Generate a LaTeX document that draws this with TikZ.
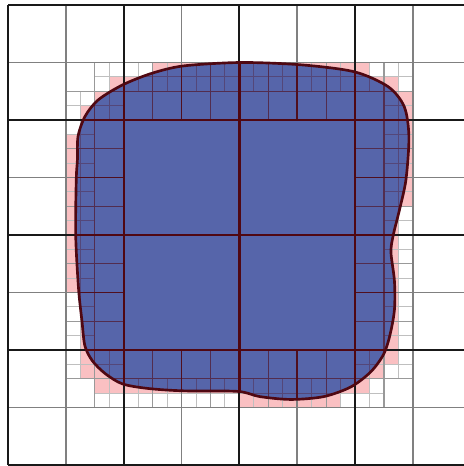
\documentclass[tikz,border=0pt]{standalone}
\usepackage{tikz}

\definecolor{fillblue}{RGB}{86,101,170}
\definecolor{cutpink}{RGB}{250,192,194}
\definecolor{rimred}{RGB}{80,8,18}

\tikzset{every picture/.style={line width=0.75pt}}
\tikzset{
  lvl0/.style={draw=black!90, line width=1.5pt},
  lvl1/.style={draw=black!50, line width=1.35pt},
  lvl2/.style={draw=black!40, line width=0.9pt},
  lvl3/.style={draw=black!25, line width=0.7pt},
  inside/.style={
    lvl0/.style={draw=rimred, line width=1.7pt},
    lvl1/.style={draw=rimred!92!fillblue, line width=1.4pt},
    lvl2/.style={draw=rimred!60!fillblue, line width=0.9pt},
    lvl3/.style={draw=rimred!32!fillblue, line width=0.7pt}},
  cutcell/.style={fill=cutpink},
  rim/.style={draw=rimred, line width=2pt},
}

% boundary of the region, in cell units
\newcommand{\blobpath}{plot[smooth cycle,tension=0.5] coordinates {
  (4.02,1.00) (5.06,1.04) (5.98,1.16) (6.57,1.42) (6.85,1.77) (6.93,2.29)
  (6.88,3.03) (6.77,3.55) (6.66,4.00) (6.62,4.30) (6.68,4.80) (6.68,5.30)
  (6.60,5.75) (6.49,6.08) (6.27,6.38) (5.93,6.64) (5.46,6.81) (4.89,6.86)
  (4.35,6.81) (3.97,6.72) (3.03,6.71) (2.43,6.67) (1.98,6.59) (1.68,6.41)
  (1.46,6.19) (1.33,5.93) (1.28,5.51) (1.22,4.94) (1.17,4.00) (1.18,3.03)
  (1.20,2.69) (1.21,2.29) (1.33,1.94) (1.56,1.65) (1.98,1.39) (2.48,1.19)
  (3.03,1.06)}}

% quadtree lines, finest first
\newcommand{\quadmesh}{%
  % level 3: split quarter cells
  \foreach \x/\y in {1.5/1,1/1.5,1.5/1.5,2/1,2.5/1,3/1,3.5/1,4/1,4.5/1,5/1,5.5/1,
      6/1,6.5/1,6.5/1.5,6.5/2,6.5/2.5,6.5/3,6.5/3.5,6.5/4,6.5/4.5,6.5/5,6.5/5.5,
      6/6,6.5/6,6/6.5,5.5/6.5,5/6.5,4.5/6.5,4/6.5,3.5/6.5,3/6.5,2.5/6.5,2/6.5,
      1.5/6.5,1/6,1.5/6,1/5.5,1/5,1/4.5,1/4,1/3.5,1/3,1/2.5,1/2}
    \draw[lvl3] (\x+0.25,\y) -- ++(0,0.5) (\x,\y+0.25) -- ++(0.5,0);
  % level 2: ring cells
  \foreach \i in {1,...,6} {
    \draw[lvl2] (\i+0.5,1) -- ++(0,1) (\i,1.5) -- ++(1,0);
    \draw[lvl2] (\i+0.5,6) -- ++(0,1) (\i,6.5) -- ++(1,0);
  }
  \foreach \j in {2,...,5} {
    \draw[lvl2] (1.5,\j) -- ++(0,1) (1,\j+0.5) -- ++(1,0);
    \draw[lvl2] (6.5,\j) -- ++(0,1) (6,\j+0.5) -- ++(1,0);
  }
  % level 1
  \foreach \k in {1,7}
    \draw[lvl1] (\k,0) -- (\k,8) (0,\k) -- (8,\k);
  \foreach \k in {3,5}
    \draw[lvl1] (\k,0) -- (\k,2) (\k,6) -- (\k,8) (0,\k) -- (2,\k) (6,\k) -- (8,\k);
  % level 0
  \foreach \k in {0,2,...,8}
    \draw[lvl0] (\k,0) -- (\k,8) (0,\k) -- (8,\k);
}

\begin{document}
\begin{tikzpicture}[x=0.75pt,y=0.75pt,yscale=-1,xscale=1]
\useasboundingbox (0,0) rectangle (463,466);

\begin{scope}[shift={(8,5)},xscale=57.85,yscale=57.5]
% cut cells
\foreach \x/\y in {1.75/1.25,1.5/1.5,1.25/1.75,2/1.25,2.25/1.25,2.5/1,2.75/1,
    3/1,3.25/1,3.5/1,3.75/1,4/1,4.25/1,4.5/1,4.75/1,5/1,5.25/1,5.5/1,5.75/1,
    6/1,6.25/1.25,6.5/1.25,6.5/1.5,6.75/1.5,6.75/1.75,
    6.75/2,6.75/2.25,6.75/2.5,6.75/2.75,6.75/3,6.75/3.25,
    6.5/3.5,6.5/3.75,6.5/4,6.5/4.25,6.5/4.5,6.5/4.75,6.5/5,6.5/5.25,6.5/5.5,6.5/5.75,
    6.5/6,6.25/6,6.25/6.25,6/6.25,6/6.5,
    5.75/6.5,5.5/6.5,5.5/6.75,5.25/6.75,5/6.75,4.75/6.75,4.5/6.75,4.25/6.75,4/6.75,
    3.75/6.5,3.5/6.5,3.25/6.5,3/6.5,2.75/6.5,2.5/6.5,2.25/6.5,2/6.5,
    1.75/6.5,1.5/6.5,1.5/6.25,1.25/6.25,1.25/6,
    1.25/5.75,1.25/5.5,1.25/5.25,1.25/5,
    1/4.75,1/4.5,1/4.25,1/4,1/3.75,1/3.5,1/3.25,1/3,1/2.75,1/2.5,1/2.25,1.25/2}
  \fill[cutcell] (\x,\y) rectangle ++(0.25,0.25);

% mesh outside
\quadmesh

% region and mesh inside
\begin{scope}
\clip \blobpath;
\fill[fillblue] (0,0) rectangle (8,8);
\begin{scope}[inside]
\quadmesh
\end{scope}
\end{scope}

% boundary
\draw[rim] \blobpath;
\end{scope}

\end{tikzpicture}
\end{document}
